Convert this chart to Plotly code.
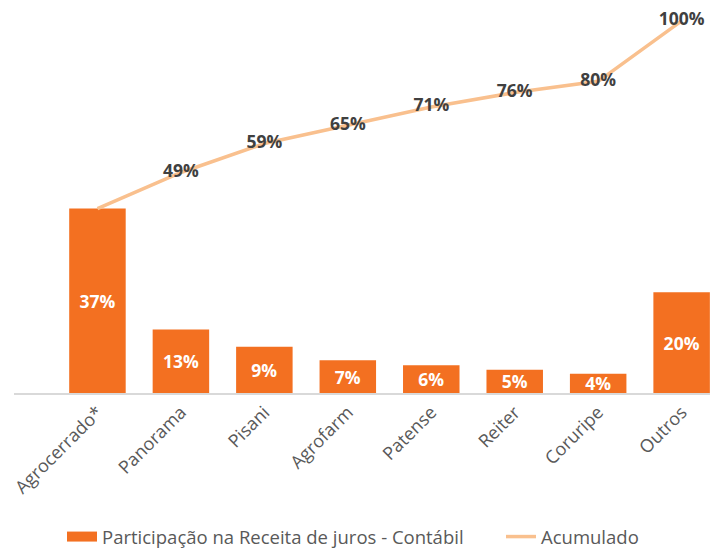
import plotly.graph_objects as go

categories = ["Agrocerrado*", "Panorama", "Pisani", "Agrofarm", "Patense", "Reiter", "Coruripe", "Outros"]
participacao = [36.6, 12.6, 9.2, 6.5, 5.5, 4.6, 3.8, 20.0]
acumulado = [36.6, 48.8, 58.6, 64.8, 70.9, 75.8, 79.6, 100.0]
acumulado_labels = ["", "49%", "59%", "65%", "71%", "76%", "80%", "100%"]
participacao_labels = ["37%", "13%", "9%", "7%", "6%", "5%", "4%", "20%"]

BAR_COLOR = "#F37021"
LINE_COLOR = "#F9C08E"
TEXT_GRAY = "#595959"
LABEL_DARK = "#404040"
FONT = "Open Sans"

fig = go.Figure()
fig.add_trace(go.Bar(
    x=categories, y=participacao,
    name="Participação na Receita de juros - Contábil",
    marker=dict(color=BAR_COLOR, line=dict(width=0)),
    text=participacao_labels,
    textposition="inside", insidetextanchor="middle",
    constraintext="none", cliponaxis=False,
    textfont=dict(color="white", size=17.5, family=FONT, weight="bold"),
    showlegend=False,
))
fig.add_trace(go.Scatter(
    x=categories, y=acumulado, yaxis="y2",
    name="Acumulado", mode="lines+text",
    line=dict(color=LINE_COLOR, width=3.5),
    text=acumulado_labels,
    textposition="middle center", cliponaxis=False,
    textfont=dict(color=LABEL_DARK, size=17.5, family=FONT, weight="bold"),
    legend="legend2",
))
# legend-only entry drawn as a wide rectangle like the original bar key
fig.add_trace(go.Scatter(
    x=[None], y=[None], mode="lines",
    name="Participação na Receita de juros - Contábil",
    line=dict(color=BAR_COLOR, width=10),
    legend="legend",
))

legend_common = dict(orientation="h", yref="container", y=0.02, yanchor="middle",
                     xanchor="left", font=dict(size=18.5, color=TEXT_GRAY, family=FONT),
                     bgcolor="rgba(0,0,0,0)", itemwidth=30)

fig.update_layout(
    width=710, height=548,
    margin=dict(l=14, r=0, t=10, b=155),
    paper_bgcolor="white", plot_bgcolor="white",
    font=dict(family=FONT, color=TEXT_GRAY, size=16),
    bargap=0.323,
    showlegend=True,
    legend=dict(x=0.069, **legend_common),
    legend2=dict(x=0.6997, **legend_common),
    xaxis=dict(range=[-1.0, 7.34], showgrid=False, zeroline=False, automargin=False,
               showline=True, linecolor="#D9D9D9", linewidth=1.5,
               ticks="", tickangle=-45, tickfont=dict(size=18, color=TEXT_GRAY, family=FONT)),
    yaxis=dict(range=[0, 76.0], visible=False, showgrid=False, automargin=False),
    yaxis2=dict(range=[-25.7, 103.7], overlaying="y", side="right", visible=False,
                showgrid=False, automargin=False),
)

fig.write_html("out.html")
